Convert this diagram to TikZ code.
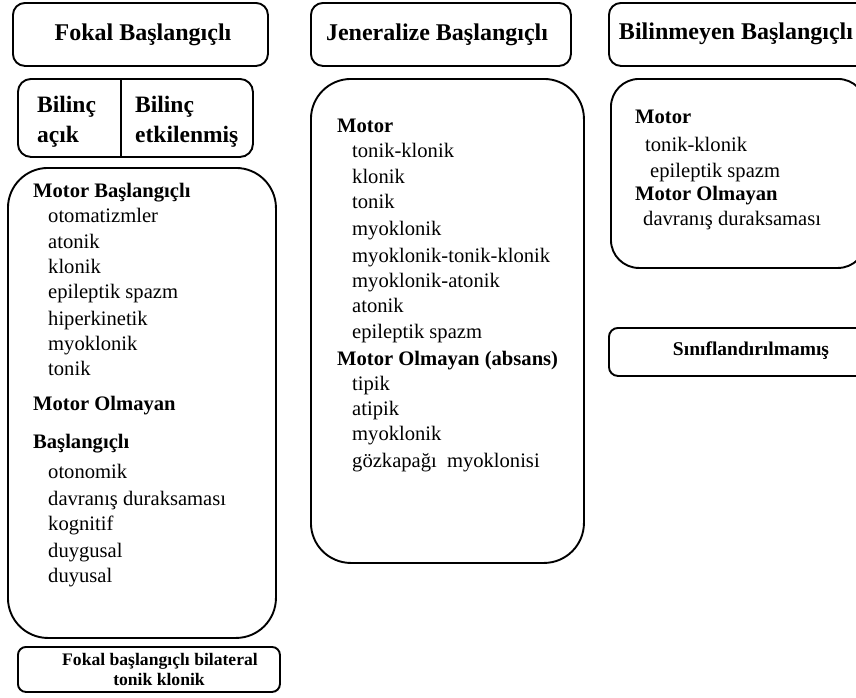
\documentclass[tikz,border=0pt]{standalone}
\usepackage{fontspec}
\setmainfont{Liberation Serif}
\begin{document}
\begin{tikzpicture}[x=1pt,y=-1pt,
  frame/.style={draw, line width=1.9pt, rounded corners=#1, inner sep=0pt, anchor=north west},
  head/.style={inner sep=0pt, anchor=base, font=\fontsize{24}{28}\selectfont\bfseries},
  subhead/.style={inner sep=0pt, anchor=base west, font=\fontsize{23.5}{28}\selectfont\bfseries},
  item/.style={inner sep=0pt, anchor=base west, font=\fontsize{20.6}{24}\selectfont},
  smallhead/.style={inner sep=0pt, anchor=base, font=\fontsize{#1}{22}\selectfont\bfseries}]
\useasboundingbox (0,0) rectangle (856,697);
\clip (0,0) rectangle (856,697);
\fill[white] (0,0) rectangle (856,697);

% boxes
\node[frame=12pt, minimum width=255pt, minimum height=63pt] (fokalhead) at (12,2) {};
\node[frame=13pt, minimum width=235pt, minimum height=78pt] (bilinc) at (17,78) {};
\draw[line width=1.9pt] (121,78) -- (121,156);
\node[frame=40pt, minimum width=268pt, minimum height=470pt] (leftbig) at (7,167) {};
\node[frame=8pt, minimum width=262pt, minimum height=45pt] (bottombox) at (17,646) {};
\node[frame=12pt, minimum width=260pt, minimum height=63pt] (jenhead) at (310,2) {};
\node[frame=40pt, minimum width=273pt, minimum height=484pt] (midbig) at (310,78) {};
\node[frame=12pt, minimum width=270pt, minimum height=63pt] (bilhead) at (608,2) {};
\node[frame=28pt, minimum width=255pt, minimum height=189pt] (rightbig) at (610,78) {};
\node[frame=9pt, minimum width=272pt, minimum height=48pt] (sinif) at (608,327) {};

% headings
\node[head] (t1) at (143,40) {Fokal Başlangıçlı};
\node[head] (t2) at (437,40) {Jeneralize Başlangıçlı};
\node[head] (t3) at (736,39) {Bilinmeyen Başlangıçlı};

\node[subhead] (b1) at (37,112) {Bilinç};
\node[subhead] (b2) at (37,142) {açık};
\node[subhead] (b3) at (135,112) {Bilinç};
\node[subhead] (b4) at (135,142) {etkilenmiş};

% left list
\foreach \x/\y/\t [count=\i] in {
  33/197/\textbf{Motor Başlangıçlı},
  48/222/otomatizmler,
  48/248/atonik,
  48/273/klonik,
  48/298/epileptik spazm,
  48/325/hiperkinetik,
  48/350/myoklonik,
  48/375/tonik,
  33/410/\textbf{Motor Olmayan},
  33/448/\textbf{Başlangıçlı},
  48/478/otonomik,
  48/505/davranış duraksaması,
  48/530/kognitif,
  48/557/duygusal,
  48/582/duyusal}
  \node[item] (fl\i) at (\x,\y) {\t};

% middle list
\foreach \x/\y/\t [count=\i] in {
  337/132/\textbf{Motor},
  352/157/tonik-klonik,
  352/183/klonik,
  352/208/tonik,
  352/235/myoklonik,
  352/262/myoklonik-tonik-klonik,
  352/287/myoklonik-atonik,
  352/312/atonik,
  352/338/epileptik spazm,
  337/365/\textbf{Motor Olmayan (absans)},
  352/390/tipik,
  352/415/atipik,
  352/440/myoklonik,
  352/467/gözkapağı\hspace{5pt} myoklonisi}
  \node[item] (gm\i) at (\x,\y) {\t};

% right list
\foreach \x/\y/\t [count=\i] in {
  635/123/\textbf{Motor},
  645/151/tonik-klonik,
  650/177/epileptik spazm,
  635/200/\textbf{Motor Olmayan},
  643/225/davranış duraksaması}
  \node[item] (bm\i) at (\x,\y) {\t};

\node[smallhead=19.5] (s1) at (751,355) {Sınıflandırılmamış};
\node[smallhead=17.6] (f1) at (160,665) {Fokal başlangıçlı bilateral};
\node[smallhead=17.6] (f2) at (159,685) {tonik klonik};
\end{tikzpicture}
\end{document}
